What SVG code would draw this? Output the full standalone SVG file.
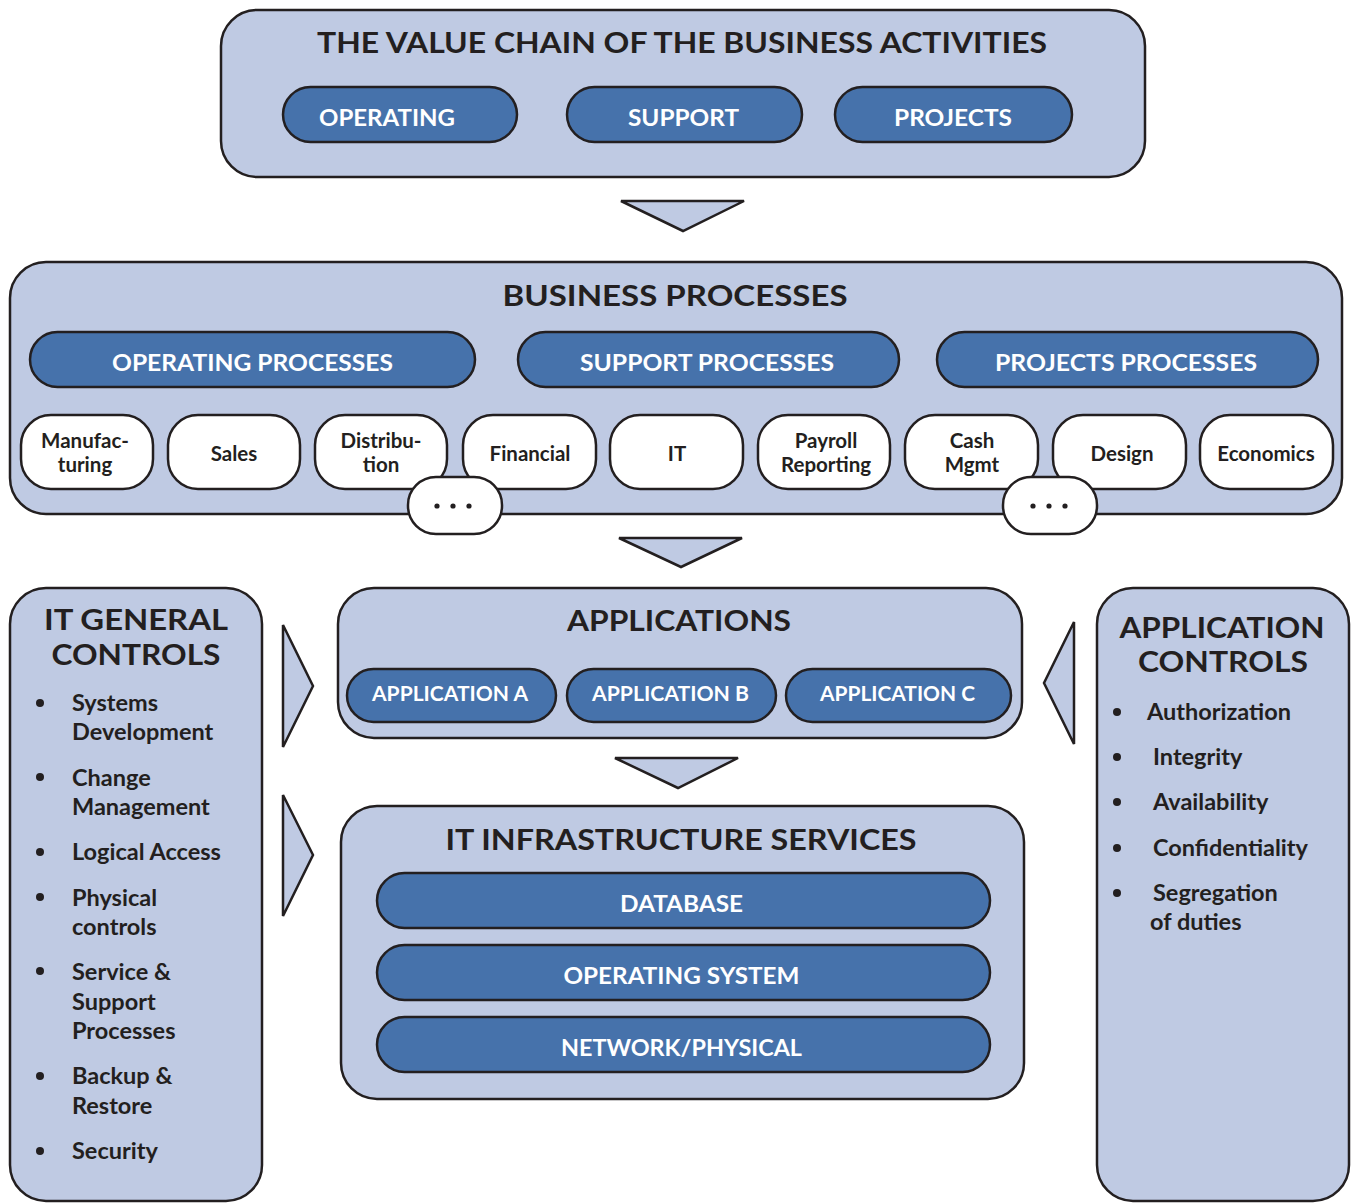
<svg xmlns="http://www.w3.org/2000/svg" width="1351" height="1203" viewBox="0 0 1351 1203">
<defs>
<style>
.panel{fill:#BFCAE3;stroke:#231F20;stroke-width:2.5}
.pill{fill:#4672AB;stroke:#231F20;stroke-width:2.5}
.wbox{fill:#FFFFFF;stroke:#231F20;stroke-width:2.5}
.tri{fill:#BFCAE3;stroke:#231F20;stroke-width:2.5;stroke-linejoin:miter}
text{font-family:Lato,"Open Sans","Liberation Sans",sans-serif;font-weight:700}
.title{fill:#231F20;font-size:29px;text-anchor:middle}
.side{font-size:29px}
.wt{fill:#FFFFFF;font-size:22px;text-anchor:middle}
.wt2{fill:#FFFFFF;font-size:20px;text-anchor:middle}
.st{fill:#231F20;font-size:20.5px;text-anchor:middle}
.bt{fill:#231F20;font-size:23.5px}
.dot{fill:#231F20}
</style>
</defs>

<g id="value-chain">
<rect class="panel" x="221" y="10" width="924" height="167" rx="36"/>
<text class="title" x="682" y="53" textLength="730" lengthAdjust="spacingAndGlyphs">THE VALUE CHAIN OF THE BUSINESS ACTIVITIES</text>
<g id="vc-operating"><rect class="pill" x="283" y="87" width="234" height="55" rx="27.5"/><text class="wt" x="387" y="126" textLength="136" lengthAdjust="spacingAndGlyphs">OPERATING</text></g>
<g id="vc-support"><rect class="pill" x="567" y="87" width="235" height="55" rx="27.5"/><text class="wt" x="683.5" y="126" textLength="111" lengthAdjust="spacingAndGlyphs">SUPPORT</text></g>
<g id="vc-projects"><rect class="pill" x="835" y="87" width="237" height="55" rx="27.5"/><text class="wt" x="953" y="126" textLength="118" lengthAdjust="spacingAndGlyphs">PROJECTS</text></g>
</g>

<g id="business-processes">
<rect class="panel" x="10" y="262" width="1332" height="252" rx="36"/>
<text class="title" x="675" y="306" textLength="345" lengthAdjust="spacingAndGlyphs">BUSINESS PROCESSES</text>
<g id="bp-operating"><rect class="pill" x="30" y="332" width="445" height="55" rx="27.5"/><text class="wt" x="252.5" y="371" textLength="281" lengthAdjust="spacingAndGlyphs">OPERATING PROCESSES</text></g>
<g id="bp-support"><rect class="pill" x="518" y="332" width="381" height="55" rx="27.5"/><text class="wt" x="707" y="371" textLength="254" lengthAdjust="spacingAndGlyphs">SUPPORT PROCESSES</text></g>
<g id="bp-projects"><rect class="pill" x="937" y="332" width="381" height="55" rx="27.5"/><text class="wt" x="1126" y="371" textLength="262" lengthAdjust="spacingAndGlyphs">PROJECTS PROCESSES</text></g>

<g id="p-manufacturing"><rect class="wbox" x="21" y="415" width="132" height="74" rx="30"/><text class="st" x="85" y="448">Manufac-</text><text class="st" x="85" y="472">turing</text></g>
<g id="p-sales"><rect class="wbox" x="168" y="415" width="132" height="74" rx="30"/><text class="st" x="234" y="461">Sales</text></g>
<g id="p-distribution"><rect class="wbox" x="315" y="415" width="132" height="74" rx="30"/><text class="st" x="381" y="448">Distribu-</text><text class="st" x="381" y="472">tion</text></g>
<g id="p-financial"><rect class="wbox" x="463" y="415" width="133" height="74" rx="30"/><text class="st" x="530" y="461">Financial</text></g>
<g id="p-it"><rect class="wbox" x="610" y="415" width="133" height="74" rx="30"/><text class="st" x="677" y="461">IT</text></g>
<g id="p-payroll"><rect class="wbox" x="758" y="415" width="132" height="74" rx="30"/><text class="st" x="826" y="448">Payroll</text><text class="st" x="826" y="472">Reporting</text></g>
<g id="p-cash"><rect class="wbox" x="905" y="415" width="133" height="74" rx="30"/><text class="st" x="972" y="448">Cash</text><text class="st" x="972" y="472">Mgmt</text></g>
<g id="p-design"><rect class="wbox" x="1053" y="415" width="133" height="74" rx="30"/><text class="st" x="1122" y="461">Design</text></g>
<g id="p-economics"><rect class="wbox" x="1200" y="415" width="133" height="74" rx="30"/><text class="st" x="1266" y="461">Economics</text></g>

<g id="more-1"><rect class="wbox" x="408" y="477" width="94" height="57" rx="28"/><circle class="dot" cx="437" cy="506" r="2.6"/><circle class="dot" cx="453" cy="506" r="2.6"/><circle class="dot" cx="469" cy="506" r="2.6"/></g>
<g id="more-2"><rect class="wbox" x="1003" y="477" width="94" height="57" rx="28"/><circle class="dot" cx="1033" cy="506" r="2.6"/><circle class="dot" cx="1049" cy="506" r="2.6"/><circle class="dot" cx="1065" cy="506" r="2.6"/></g>
</g>

<g id="applications">
<rect class="panel" x="338" y="588" width="684" height="150" rx="36"/>
<text class="title" x="679" y="631" textLength="224" lengthAdjust="spacingAndGlyphs">APPLICATIONS</text>
<g id="app-a"><rect class="pill" x="347" y="669" width="209" height="53" rx="26.5"/><text class="wt2" x="450" y="701" textLength="156" lengthAdjust="spacingAndGlyphs">APPLICATION A</text></g>
<g id="app-b"><rect class="pill" x="567" y="669" width="209" height="53" rx="26.5"/><text class="wt2" x="670.5" y="701" textLength="157" lengthAdjust="spacingAndGlyphs">APPLICATION B</text></g>
<g id="app-c"><rect class="pill" x="786" y="669" width="225" height="53" rx="26.5"/><text class="wt2" x="897.5" y="701" textLength="155" lengthAdjust="spacingAndGlyphs">APPLICATION C</text></g>
</g>

<g id="it-infrastructure">
<rect class="panel" x="341" y="806" width="683" height="293" rx="36"/>
<text class="title" x="681" y="850" textLength="471" lengthAdjust="spacingAndGlyphs">IT INFRASTRUCTURE SERVICES</text>
<g id="infra-db"><rect class="pill" x="377" y="873" width="613" height="55" rx="27.5"/><text class="wt" x="681.5" y="912" textLength="123" lengthAdjust="spacingAndGlyphs">DATABASE</text></g>
<g id="infra-os"><rect class="pill" x="377" y="945" width="613" height="55" rx="27.5"/><text class="wt" x="681.5" y="984" textLength="236" lengthAdjust="spacingAndGlyphs">OPERATING SYSTEM</text></g>
<g id="infra-net"><rect class="pill" x="377" y="1017" width="613" height="55" rx="27.5"/><text class="wt" x="681.5" y="1056" textLength="241" lengthAdjust="spacingAndGlyphs">NETWORK/PHYSICAL</text></g>
</g>

<g id="it-general-controls">
<rect class="panel" x="10" y="588" width="252" height="613" rx="36"/>
<text class="title side" x="136" y="630" textLength="184" lengthAdjust="spacingAndGlyphs">IT GENERAL</text>
<text class="title side" x="136" y="665" textLength="169" lengthAdjust="spacingAndGlyphs">CONTROLS</text>
<circle class="dot" cx="40" cy="703" r="4"/><text class="bt" x="72" y="711">Systems</text><text class="bt" x="72" y="740">Development</text>
<circle class="dot" cx="40" cy="777" r="4"/><text class="bt" x="72" y="786">Change</text><text class="bt" x="72" y="815">Management</text>
<circle class="dot" cx="40" cy="852" r="4"/><text class="bt" x="72" y="860">Logical Access</text>
<circle class="dot" cx="40" cy="897" r="4"/><text class="bt" x="72" y="906">Physical</text><text class="bt" x="72" y="935">controls</text>
<circle class="dot" cx="40" cy="971" r="4"/><text class="bt" x="72" y="980">Service &amp;</text><text class="bt" x="72" y="1010">Support</text><text class="bt" x="72" y="1039">Processes</text>
<circle class="dot" cx="40" cy="1076" r="4"/><text class="bt" x="72" y="1084">Backup &amp;</text><text class="bt" x="72" y="1114">Restore</text>
<circle class="dot" cx="40" cy="1151" r="4"/><text class="bt" x="72" y="1159">Security</text>
</g>

<g id="application-controls">
<rect class="panel" x="1097" y="588" width="252" height="613" rx="36"/>
<text class="title side" x="1222" y="638" textLength="205" lengthAdjust="spacingAndGlyphs">APPLICATION</text>
<text class="title side" x="1223" y="672" textLength="170" lengthAdjust="spacingAndGlyphs">CONTROLS</text>
<circle class="dot" cx="1117" cy="712" r="4"/><text class="bt" x="1147" y="720">Authorization</text>
<circle class="dot" cx="1117" cy="757" r="4"/><text class="bt" x="1153" y="765">Integrity</text>
<circle class="dot" cx="1117" cy="802" r="4"/><text class="bt" x="1153" y="810">Availability</text>
<circle class="dot" cx="1117" cy="848" r="4"/><text class="bt" x="1153" y="856">Confidentiality</text>
<circle class="dot" cx="1117" cy="893" r="4"/><text class="bt" x="1153" y="901">Segregation</text><text class="bt" x="1150" y="930">of duties</text>
</g>

<g id="connectors">
<polygon class="tri" points="621,201 744,201 683,231"/>
<polygon class="tri" points="619,538 742,538 681,567"/>
<polygon class="tri" points="615,758 738,758 678,788"/>
<polygon class="tri" points="283,625 283,747 313,686"/>
<polygon class="tri" points="283,795 283,916 313,855"/>
<polygon class="tri" points="1074,622 1074,744 1044,683"/>
</g>
</svg>
